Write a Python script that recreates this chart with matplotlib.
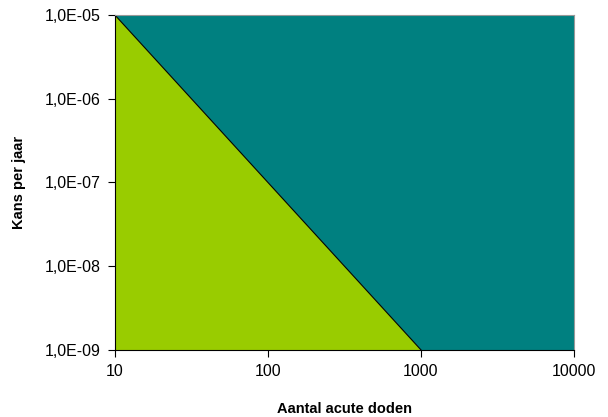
import matplotlib
matplotlib.use('Agg')
import matplotlib.pyplot as plt
from matplotlib.ticker import FixedLocator, NullLocator

# grenswaarde: kans per jaar tegen aantal acute doden
line_x = [10, 1000, 10000]
line_y = [1e-5, 1e-9, 1e-9]
x_ticks = [10, 100, 1000, 10000]
x_labels = ['10', '100', '1000', '10000']
y_ticks = [1e-9, 1e-8, 1e-7, 1e-6, 1e-5]
y_labels = ['1,0E-09', '1,0E-08', '1,0E-07', '1,0E-06', '1,0E-05']

plt.rcParams['font.family'] = ['Liberation Sans', 'DejaVu Sans']

fig = plt.figure(figsize=(6.08, 4.17), dpi=100)
ax = fig.add_axes([0.189, 0.161, 0.755, 0.803])
ax.set_xscale('log')
ax.set_yscale('log')
ax.set_xlim(10, 10000)
ax.set_ylim(1e-9, 1e-5)

ax.fill_between(line_x, line_y, 1e-5, color='#008080', linewidth=0)
ax.fill_between(line_x, 1e-9, line_y, color='#99CC00', linewidth=0)
ax.plot(line_x[:2], line_y[:2], color='black', linewidth=0.8)

ax.xaxis.set_major_locator(FixedLocator(x_ticks))
ax.xaxis.set_minor_locator(NullLocator())
ax.set_xticklabels(x_labels)
ax.yaxis.set_major_locator(FixedLocator(y_ticks))
ax.yaxis.set_minor_locator(NullLocator())
ax.set_yticklabels(y_labels)
ax.tick_params(labelsize=11.5, length=5, width=0.8)
ax.tick_params(axis='x', pad=5)
ax.tick_params(axis='y', pad=5)

ax.spines['top'].set_color('#999999')
ax.spines['right'].set_color('#999999')

ax.set_xlabel('Aantal acute doden', fontsize=10.5, fontweight='bold', labelpad=17)
ax.set_ylabel('Kans per jaar', fontsize=10.5, fontweight='bold', labelpad=14)

fig.savefig('out.png', dpi=100)
